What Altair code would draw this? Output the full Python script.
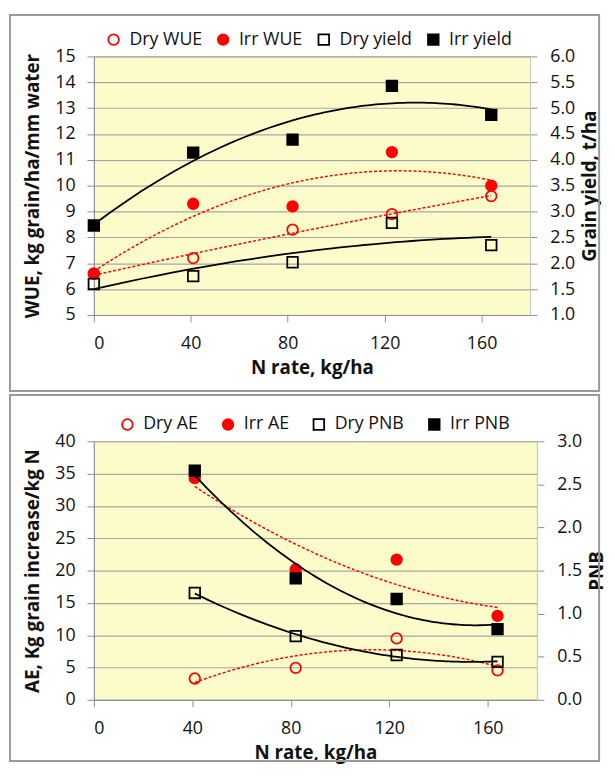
import altair as alt
import pandas as pd

# ---------------- data ----------------
n_rate_top = [0, 41, 82, 123, 164]
dry_wue = [6.6, 7.2, 8.3, 8.9, 9.6]
irr_wue = [6.6, 9.3, 9.2, 11.3, 10.0]
dry_yield = [1.6, 1.75, 2.02, 2.78, 2.35]
irr_yield = [2.73, 4.14, 4.39, 5.43, 4.87]

n_rate_bot = [41, 82, 123, 164]
dry_ae = [3.3, 4.95, 9.5, 4.55]
irr_ae = [34.3, 20.2, 21.7, 13.0]
dry_pnb = [1.24, 0.74, 0.52, 0.44]
irr_pnb = [2.66, 1.41, 1.17, 0.82]

top_series = ["Dry WUE", "Irr WUE", "Dry yield", "Irr yield"]
bot_series = ["Dry AE", "Irr AE", "Dry PNB", "Irr PNB"]
x_ticks = [0, 40, 80, 120, 160]

RED = "#FF0000"
shapes = ["circle", "circle", "square", "square"]
fills = ["transparent", RED, "transparent", "black"]
strokes = [RED, RED, "black", "black"]


def long_df(xs, cols):
    rows = []
    for name, vals in cols:
        for x, v in zip(xs, vals):
            rows.append({"N": x, "value": v, "series": name})
    return pd.DataFrame(rows)


top_df = long_df(n_rate_top, [("Dry WUE", dry_wue), ("Irr WUE", irr_wue),
                              ("Dry yield", dry_yield), ("Irr yield", irr_yield)])
bot_df = long_df(n_rate_bot, [("Dry AE", dry_ae), ("Irr AE", irr_ae),
                              ("Dry PNB", dry_pnb), ("Irr PNB", irr_pnb)])

AX_GRAY = "#8C8C8C"
PLOT_H = 262


def x_enc():
    return alt.X("N:Q", scale=alt.Scale(domain=[0, 180], nice=False),
                 axis=alt.Axis(values=x_ticks, title="N rate, kg/ha", grid=False,
                               tickSize=7, labelPadding=13, titlePadding=6,
                               domainColor=AX_GRAY, tickColor=AX_GRAY))


def panel(df, series, left_names, right_names, left_dom, left_vals, left_title,
          right_dom, right_vals, right_title, width, leg_x, col_pad, frame_y, frame_y2):
    leg = alt.Legend(title=None, orient="none", legendX=leg_x, legendY=-26,
                     direction="horizontal", columnPadding=col_pad)
    mark_enc = dict(
        shape=alt.Shape("series:N", scale=alt.Scale(domain=series, range=shapes), legend=leg),
        fill=alt.Fill("series:N", scale=alt.Scale(domain=series, range=fills), legend=leg),
        stroke=alt.Stroke("series:N", scale=alt.Scale(domain=series, range=strokes), legend=leg),
    )
    y_left = alt.Y("value:Q", scale=alt.Scale(domain=left_dom, nice=False, zero=False),
                   axis=alt.Axis(values=left_vals, title=left_title, grid=True,
                                 gridColor="#A6A6A6", gridWidth=1.2,
                                 tickSize=7, labelPadding=12, titlePadding=12,
                                 domainColor=AX_GRAY, tickColor=AX_GRAY))
    y_right = alt.Y("value:Q", scale=alt.Scale(domain=right_dom, nice=False, zero=False),
                    axis=alt.Axis(orient="right", values=right_vals, format=".1f",
                                  title=right_title, grid=False, titleAngle=270,
                                  titleBaseline="top", tickSize=7, labelPadding=13,
                                  titlePadding=6, domainColor="#C8C8C8", tickColor=AX_GRAY))

    base = alt.Chart(df)
    lpts = base.transform_filter(alt.FieldOneOfPredicate(field="series", oneOf=left_names)) \
        .mark_point(size=115, strokeWidth=1.8, opacity=1) \
        .encode(x=x_enc(), y=y_left, **mark_enc)
    ltrend = base.transform_filter(alt.FieldOneOfPredicate(field="series", oneOf=left_names)) \
        .transform_regression("N", "value", method="poly", order=2, groupby=["series"]) \
        .mark_line(color=RED, strokeWidth=1.5, strokeDash=[3, 2]) \
        .encode(x=x_enc(), y=y_left, detail="series:N")
    rpts = base.transform_filter(alt.FieldOneOfPredicate(field="series", oneOf=right_names)) \
        .mark_point(size=115, strokeWidth=1.8, opacity=1) \
        .encode(x=x_enc(), y=y_right, **mark_enc)
    rtrend = base.transform_filter(alt.FieldOneOfPredicate(field="series", oneOf=right_names)) \
        .transform_regression("N", "value", method="poly", order=2, groupby=["series"]) \
        .mark_line(color="black", strokeWidth=1.8) \
        .encode(x=x_enc(), y=y_right, detail="series:N")
    frame = alt.Chart(pd.DataFrame({"k": [0]})).mark_rect(
        fillOpacity=0, stroke="#9A9A9A", strokeWidth=2
    ).encode(x=alt.value(-85), x2=alt.value(512), y=alt.value(frame_y), y2=alt.value(frame_y2))

    return alt.layer(
        alt.layer(lpts, ltrend),
        alt.layer(rpts, rtrend),
        frame,
    ).resolve_scale(y="independent").properties(width=width, height=PLOT_H)


top = panel(top_df, top_series, ["Dry WUE", "Irr WUE"], ["Dry yield", "Irr yield"],
            [5, 15], list(range(5, 16)), "WUE, kg grain/ha/mm water",
            [1, 6], [1 + 0.5 * i for i in range(11)], "Grain yield, t/ha",
            442, 11, 12, -42, 339)
bot = panel(bot_df, bot_series, ["Dry AE", "Irr AE"], ["Dry PNB", "Irr PNB"],
            [0, 40], list(range(0, 41, 5)), "AE, Kg grain increase/kg N",
            [0, 3], [0.5 * i for i in range(7)], "PNB",
            449, 25, 21, -47, 324)

chart = alt.vconcat(top, bot, spacing=0).resolve_scale(
    shape="independent", fill="independent", stroke="independent"
).resolve_legend(
    shape="independent", fill="independent", stroke="independent"
).properties(padding=0, background="white").configure(
    font="Open Sans"
).configure_view(
    fill="#FCFCCB", stroke="#C0C0C0", strokeWidth=1
).configure_axis(
    labelFontSize=18, labelColor="#111111", titleFontSize=19, titleFontWeight="bold",
    titleColor="#111111", labelFont="Open Sans", titleFont="Open Sans"
).configure_legend(
    labelFontSize=18, labelColor="#111111", symbolSize=115, symbolStrokeWidth=1.8,
    padding=0, labelOffset=7, labelFont="Open Sans"
)

chart.save("out.html", embed_options={"renderer": "svg", "actions": False})
